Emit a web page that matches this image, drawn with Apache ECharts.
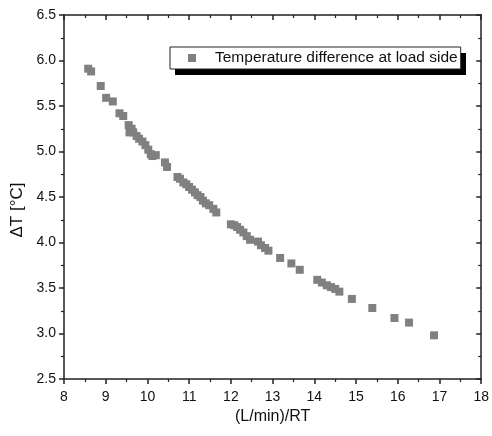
<!DOCTYPE html>
<html lang="en">
<head>
    <meta charset="UTF-8">
    <title>Temperature difference</title>
    <script src="https://cdn.jsdelivr.net/npm/echarts@6/dist/echarts.min.js"></script>
    <style>
        html, body { margin: 0; padding: 0; background: #fff; }
        #main { width: 492px; height: 436px; }
    </style>
</head>
<body>
    <div id="main"></div>
    <script type="text/javascript">
        // data
        var flowRT = [8.58, 8.65, 8.88, 9.01, 9.17, 9.33, 9.42, 9.55, 9.57, 9.62,
            9.66, 9.74, 9.80, 9.88, 9.95, 10.02, 10.08, 10.12, 10.20, 10.42,
            10.47, 10.72, 10.78, 10.86, 10.93, 11.00, 11.07, 11.14, 11.20, 11.27,
            11.33, 11.40, 11.48, 11.58, 11.65, 12.00, 12.08, 12.15, 12.22, 12.30,
            12.38, 12.46, 12.65, 12.72, 12.82, 12.90, 13.18, 13.45, 13.65, 14.07,
            14.18, 14.30, 14.40, 14.50, 14.60, 14.90, 15.39, 15.92, 16.27, 16.87];
        var deltaT = [5.91, 5.88, 5.72, 5.59, 5.55, 5.42, 5.39, 5.29, 5.21, 5.25,
            5.21, 5.17, 5.14, 5.11, 5.07, 5.02, 4.97, 4.95, 4.96, 4.88,
            4.83, 4.72, 4.70, 4.66, 4.64, 4.61, 4.58, 4.55, 4.52, 4.50,
            4.46, 4.43, 4.41, 4.37, 4.33, 4.20, 4.19, 4.17, 4.14, 4.11,
            4.07, 4.03, 4.01, 3.97, 3.94, 3.91, 3.83, 3.77, 3.70, 3.59,
            3.56, 3.53, 3.51, 3.49, 3.46, 3.38, 3.28, 3.17, 3.12, 2.98];
        var seriesName = 'Temperature difference at load side';

        var points = flowRT.map(function (x, i) { return [x, deltaT[i]]; });

        var font = 'Liberation Sans';
        var axisColor = '#222';

        function xAx(pos, show) {
            return {
                type: 'value', position: pos, min: 8, max: 18, interval: 1,
                name: show ? '(L/min)/RT' : '', nameLocation: 'middle', nameGap: 30,
                nameTextStyle: { fontFamily: font, fontSize: 16, color: '#111' },
                axisLine: { show: true, onZero: false, lineStyle: { color: axisColor, width: 1.5 } },
                axisTick: { show: true, inside: !show, length: 5, lineStyle: { color: axisColor, width: 1.5 } },
                minorTick: { show: true, splitNumber: 2, length: 3, lineStyle: { color: axisColor, width: 1.2 } },
                axisLabel: { show: show, margin: 11, fontFamily: font, fontSize: 14, color: '#111' },
                splitLine: { show: false }
            };
        }

        function yAx(pos, show) {
            return {
                type: 'value', position: pos, min: 2.5, max: 6.5, interval: 0.5,
                name: show ? 'ΔT [°C]' : '', nameLocation: 'middle', nameGap: 38, nameRotate: 90,
                nameTextStyle: { fontFamily: font, fontSize: 17, color: '#111', padding: [0, 26, 0, 0] },
                axisLine: { show: true, onZero: false, lineStyle: { color: axisColor, width: 1.5 } },
                axisTick: { show: true, inside: !show, length: 5, lineStyle: { color: axisColor, width: 1.5 } },
                minorTick: { show: true, splitNumber: 2, length: 3, lineStyle: { color: axisColor, width: 1.2 } },
                axisLabel: {
                    show: show, margin: 8, fontFamily: font, fontSize: 14, color: '#111',
                    formatter: function (v) { return v.toFixed(1); }
                },
                splitLine: { show: false }
            };
        }

        var myChart = echarts.init(document.getElementById('main'));
        var option = {
            animation: false,
            backgroundColor: '#fff',
            grid: { left: 64, right: 8, top: 15, bottom: 57 },
            // black drop shadow behind the legend box
            graphic: [{
                type: 'rect', z: 0, left: 175, top: 53,
                shape: { width: 291, height: 22 },
                style: { fill: '#000' }
            }],
            legend: {
                data: [seriesName],
                left: 170, top: 47, z: 10,
                padding: [3, 3, 3, 18],
                itemWidth: 8, itemHeight: 8, itemGap: 10,
                backgroundColor: '#fff',
                borderColor: '#222', borderWidth: 1,
                textStyle: { fontFamily: font, fontSize: 15.5, color: '#111', padding: [0, 0, 0, 14] }
            },
            xAxis: [xAx('bottom', true), xAx('top', false)],
            yAxis: [yAx('left', true), yAx('right', false)],
            series: [{
                name: seriesName,
                type: 'scatter',
                symbol: 'rect',
                symbolSize: 8,
                itemStyle: { color: '#808080', opacity: 1 },
                data: points
            }]
        };
        myChart.setOption(option);
    </script>
</body>
</html>
